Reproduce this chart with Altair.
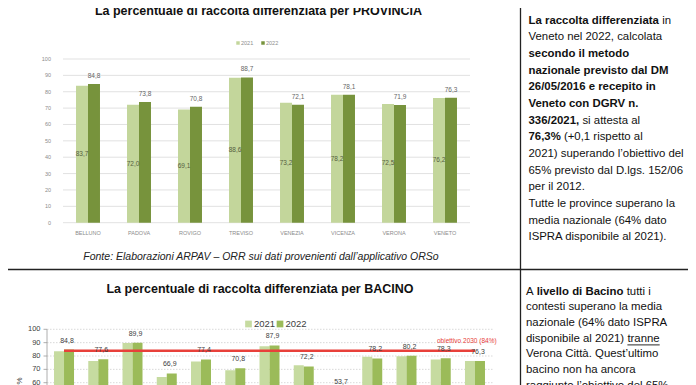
import altair as alt
import pandas as pd

# ---------------- data ----------------
provinces = ["BELLUNO", "PADOVA", "ROVIGO", "TREVISO", "VENEZIA", "VICENZA", "VERONA", "VENETO"]
prov_2021 = [83.7, 72.0, 69.1, 88.6, 73.2, 78.2, 72.5, 76.2]
prov_2022 = [84.8, 73.8, 70.8, 88.7, 72.1, 78.1, 71.9, 76.3]

basins = ["Belluno", "Brenta", "Destra Piave", "Padova Centro", "Padova Sud", "Rovigo",
          "Sinistra Piave", "Venezia", "Verona Città", "Verona Nord", "Verona Sud", "Vicenza", "VENETO"]
basin_2021 = [83.5, 76.3, 89.8, 64.2, 75.8, 69.3, 87.3, 73.1, 52.0, 79.4, 79.9, 77.4, 76.2]
basin_2022 = [84.8, 77.6, 89.9, 66.9, 77.4, 70.8, 87.9, 72.2, 53.7, 78.2, 80.2, 78.3, 76.3]

years = ["2021", "2022"]
target_2030 = 84
target_label = "obiettivo 2030 (84%)"
y_ticks = [0, 10, 20, 30, 40, 50, 60, 70, 80, 90, 100]

title_top = "La percentuale di raccolta differenziata per PROVINCIA"
title_bottom = "La percentuale di raccolta differenziata per BACINO"
source_top = "Fonte: Elaborazioni ARPAV – ORR sui dati provenienti dall’applicativo ORSo"

top_text = [
    [("La raccolta differenziata", "b"), ("in", "n")],
    [("Veneto nel 2022, calcolata", "n")],
    [("secondo il metodo", "b")],
    [("nazionale previsto dal DM", "b")],
    [("26/05/2016 e recepito in", "b")],
    [("Veneto con DGRV n.", "b")],
    [("336/2021,", "b"), ("si attesta al", "n")],
    [("76,3%", "b"), ("(+0,1 rispetto al", "n")],
    [("2021) superando l’obiettivo del", "n")],
    [("65% previsto dal D.lgs. 152/06", "n")],
    [("per il 2012.", "n")],
    [("Tutte le province superano la", "n")],
    [("media nazionale (64% dato", "n")],
    [("ISPRA disponibile al 2021).", "n")],
]
bottom_text = [
    [("A", "n"), ("livello di Bacino", "b"), ("tutti i", "n")],
    [("contesti superano la media", "n")],
    [("nazionale (64% dato ISPRA", "n")],
    [("disponibile al 2021)", "n"), ("tranne", "u")],
    [("Verona Città. Quest’ultimo", "n")],
    [("bacino non ha ancora", "n")],
    [("raggiunto l’obiettivo del 65%", "n")],
]

# ---------------- layout (reference pixel coords; page margin 8) ----------------
M = 8
def P(v):
    return v - M

FONT = "Liberation Sans"
PARA_SIZE = 11.4
W, H = 680, 377

# x offsets of the 2nd/3rd segment in mixed-style lines
top_seg_dx = {(0, 1): 133.7, (6, 1): 53.9, (7, 1): 35.4}
bot_seg_dx = {(0, 1): 10.7, (0, 2): 100.7, (3, 1): 101.4}
UNDERLINE_W = 32.3


def long_df(cats, a, b):
    rows = []
    for c, v1, v2 in zip(cats, a, b):
        rows.append({"cat": c, "year": years[0], "val": v1})
        rows.append({"cat": c, "year": years[1], "val": v2})
    return pd.DataFrame(rows)


ticks_df = pd.DataFrame({"t": y_ticks})
one = pd.DataFrame({"a": [0]})

LBL = "replace(format(datum.val, '.1f'), '.', ',')"

# ================= top chart (provinces) =================
xs_top = alt.Scale(domain=provinces, range=[P(62.5), P(470.5)], paddingInner=0.53, paddingOuter=0.265)
ys_top = alt.Scale(domain=[0, 100], range=[P(222.7), P(59)], nice=False, zero=True)
cs_top = alt.Scale(domain=years, range=["#c3d69b", "#77933c"])
xo_top = alt.Scale(domain=years)

top_df = long_df(provinces, prov_2021, prov_2022)

grid_top = alt.Chart(ticks_df).mark_rule(color="#d9d9d9", strokeWidth=0.8).encode(
    y=alt.Y("t:Q", scale=ys_top, axis=None),
    x=alt.value(P(63)), x2=alt.value(P(470)))
ylab_top = alt.Chart(ticks_df).mark_text(align="right", baseline="middle", font=FONT,
                                         fontSize=5.5, color="#8c8c8c").encode(
    y=alt.Y("t:Q", scale=ys_top, axis=None), x=alt.value(P(51)), text="t:Q")
bars_top = alt.Chart(top_df).mark_bar().encode(
    x=alt.X("cat:N", scale=xs_top, axis=None, sort=provinces),
    xOffset=alt.XOffset("year:N", scale=xo_top),
    y=alt.Y("val:Q", scale=ys_top, axis=None),
    color=alt.Color("year:N", scale=cs_top, legend=None))
lab21_top = alt.Chart(top_df).transform_filter(alt.datum.year == "2021").transform_calculate(
    half="datum.val / 2", lbl=LBL).mark_text(font=FONT, fontSize=6.5, color="#55603f",
                                             baseline="middle").encode(
    x=alt.X("cat:N", scale=xs_top, axis=None, sort=provinces),
    xOffset=alt.XOffset("year:N", scale=xo_top),
    y=alt.Y("half:Q", scale=ys_top, axis=None), text="lbl:N")
lab22_top = alt.Chart(top_df).transform_filter(alt.datum.year == "2022").transform_calculate(
    lbl=LBL).mark_text(font=FONT, fontSize=6.5, color="#666666", baseline="middle", dy=-8).encode(
    x=alt.X("cat:N", scale=xs_top, axis=None, sort=provinces),
    xOffset=alt.XOffset("year:N", scale=xo_top),
    y=alt.Y("val:Q", scale=ys_top, axis=None), text="lbl:N")
xlab_top = alt.Chart(pd.DataFrame({"cat": provinces})).mark_text(
    font=FONT, fontSize=5.5, color="#8c8c8c", baseline="middle").encode(
    x=alt.X("cat:N", scale=xs_top, axis=None, sort=provinces),
    y=alt.value(P(233)), text="cat:N")

leg_top = [
    alt.Chart(one).mark_square(size=12, color="#c3d69b", opacity=1).encode(x=alt.value(P(238)), y=alt.value(P(43))),
    alt.Chart(one).mark_text(text="2021", font=FONT, fontSize=5.5, color="#8c8c8c", align="left", baseline="middle").encode(x=alt.value(P(241)), y=alt.value(P(43))),
    alt.Chart(one).mark_square(size=12, color="#77933c", opacity=1).encode(x=alt.value(P(263)), y=alt.value(P(43))),
    alt.Chart(one).mark_text(text="2022", font=FONT, fontSize=5.5, color="#8c8c8c", align="left", baseline="middle").encode(x=alt.value(P(266)), y=alt.value(P(43))),
]

top_chart = alt.layer(grid_top, ylab_top, bars_top, lab21_top, lab22_top, xlab_top, *leg_top)

# ================= bottom chart (basins) =================
xs_bot = alt.Scale(domain=basins, range=[P(46.9), P(492.1)], paddingInner=0.416, paddingOuter=0.208)
ys_bot = alt.Scale(domain=[0, 100], range=[P(462.8), P(329.3)], nice=False, zero=True)
cs_bot = alt.Scale(domain=years, range=["#c6dba0", "#9bbb59"])
xo_bot = alt.Scale(domain=years)

bot_df = long_df(basins, basin_2021, basin_2022)

grid_bot = alt.Chart(ticks_df).mark_rule(color="#cfcfcf", strokeWidth=0.8, strokeDash=[1.5, 1.5]).encode(
    y=alt.Y("t:Q", scale=ys_bot, axis=None),
    x=alt.value(P(47)), x2=alt.value(P(494)))
tick_bot = alt.Chart(ticks_df).mark_rule(color="#9a9a9a", strokeWidth=0.8).encode(
    y=alt.Y("t:Q", scale=ys_bot, axis=None),
    x=alt.value(P(43.5)), x2=alt.value(P(47)))
axis_bot = alt.Chart(one).mark_rule(color="#9a9a9a", strokeWidth=0.8).encode(
    x=alt.value(P(47)), y=alt.value(P(329.3)), y2=alt.value(H))
ylab_bot = alt.Chart(ticks_df).mark_text(align="right", baseline="middle", font=FONT,
                                         fontSize=7.5, color="#404040").encode(
    y=alt.Y("t:Q", scale=ys_bot, axis=None), x=alt.value(P(40.5)), text="t:Q")
bars_bot = alt.Chart(bot_df).mark_bar().encode(
    x=alt.X("cat:N", scale=xs_bot, axis=None, sort=basins),
    xOffset=alt.XOffset("year:N", scale=xo_bot),
    y=alt.Y("val:Q", scale=ys_bot, axis=None),
    color=alt.Color("year:N", scale=cs_bot, legend=None))
lab22_bot = alt.Chart(bot_df).transform_filter(alt.datum.year == "2022").transform_calculate(
    lbl=LBL).mark_text(font=FONT, fontSize=7, color="#404040", baseline="middle", dy=-9, dx=-2).encode(
    x=alt.X("cat:N", scale=xs_bot, axis=None, sort=basins),
    xOffset=alt.XOffset("year:N", scale=xo_bot),
    y=alt.Y("val:Q", scale=ys_bot, axis=None), text="lbl:N")
target_df = pd.DataFrame({"c1": [basins[0]], "c2": [basins[-1]], "t": [target_2030]})
target_line = alt.Chart(target_df).mark_rule(color="#e8403a", strokeWidth=2.5).encode(
    x=alt.X("c1:N", scale=xs_bot, axis=None, sort=basins), x2="c2:N",
    y=alt.Y("t:Q", scale=ys_bot, axis=None))
target_text = alt.Chart(target_df).mark_text(text=target_label, font=FONT, fontSize=6.5, color="#e8403a",
                                             align="left", baseline="middle", dy=-10).encode(
    x=alt.value(P(437)), y=alt.Y("t:Q", scale=ys_bot, axis=None))
pct_title = alt.Chart(one).mark_text(text="%", font=FONT, fontSize=8, color="#404040", angle=270,
                                     baseline="middle").encode(x=alt.value(P(20)), y=alt.value(P(381)))

leg_bot = [
    alt.Chart(one).mark_square(size=45, color="#c6dba0", opacity=1).encode(x=alt.value(P(248.5)), y=alt.value(P(324))),
    alt.Chart(one).mark_text(text="2021", font=FONT, fontSize=9.5, color="#404040", align="left", baseline="middle").encode(x=alt.value(P(254)), y=alt.value(P(324))),
    alt.Chart(one).mark_square(size=45, color="#9bbb59", opacity=1).encode(x=alt.value(P(280)), y=alt.value(P(324))),
    alt.Chart(one).mark_text(text="2022", font=FONT, fontSize=9.5, color="#404040", align="left", baseline="middle").encode(x=alt.value(P(285.5)), y=alt.value(P(324))),
]

bottom_chart = alt.layer(grid_bot, tick_bot, axis_bot, ylab_bot, bars_bot, target_line,
                         lab22_bot, target_text, pct_title, *leg_bot)

# ================= titles, source, dividers =================
def txt(s, x, y, size, weight="normal", style="normal", color="#111111", align="center"):
    return alt.Chart(one).mark_text(text=s, font=FONT, fontSize=size, fontWeight=weight, fontStyle=style,
                                    color=color, align=align, baseline="middle").encode(
        x=alt.value(P(x)), y=alt.value(P(y)))

deco = [
    txt(title_top, 258.5, 10.5, 12.5, weight="bold"),
    txt(title_bottom, 260, 288.5, 12.5, weight="bold"),
    txt(source_top, 261, 256.7, 10.5, style="italic", color="#222222"),
    alt.Chart(one).mark_rule(color="#222222", strokeWidth=1.3).encode(
        x=alt.value(0), x2=alt.value(W), y=alt.value(P(269.5))),
    alt.Chart(one).mark_rule(color="#222222", strokeWidth=1.3).encode(
        x=alt.value(P(520.5)), y=alt.value(0), y2=alt.value(H)),
]

# ================= paragraphs =================
def para_rows(lines, x0, y0, lh, seg_dx):
    rows = []
    for i, line in enumerate(lines):
        for j, (s, st) in enumerate(line):
            dx = seg_dx.get((i, j), 0.0)
            rows.append({"s": s, "st": st, "px": P(x0 + dx), "py": P(y0 + i * lh)})
    return rows

prows = para_rows(top_text, 528.5, 20.7, 16.66, top_seg_dx) + para_rows(bottom_text, 526, 291.5, 15.7, bot_seg_dx)
pdf = pd.DataFrame(prows)

para_layers = []
for st, wt in [("n", "normal"), ("b", "bold"), ("u", "normal")]:
    para_layers.append(
        alt.Chart(pdf).transform_filter(alt.datum.st == st).mark_text(
            font=FONT, fontSize=PARA_SIZE, fontWeight=wt, color="#111111", align="left", baseline="middle").encode(
            x=alt.X("px:Q", scale=None, axis=None), y=alt.Y("py:Q", scale=None, axis=None), text="s:N"))

und = pdf[pdf["st"] == "u"].iloc[0]
underline = alt.Chart(one).mark_rule(color="#111111", strokeWidth=0.9).encode(
    x=alt.value(float(und["px"])), x2=alt.value(float(und["px"]) + UNDERLINE_W), y=alt.value(float(und["py"]) + 6.3))

chart = alt.layer(top_chart, bottom_chart, *deco, *para_layers, underline).resolve_scale(
    x="independent", y="independent", xOffset="independent", color="independent"
).properties(
    width=W, height=H, padding=0, autosize=alt.AutoSizeParams(type="none")
).configure_view(stroke=None)

chart.save("out.html", embed_options={"renderer": "svg", "actions": False})
